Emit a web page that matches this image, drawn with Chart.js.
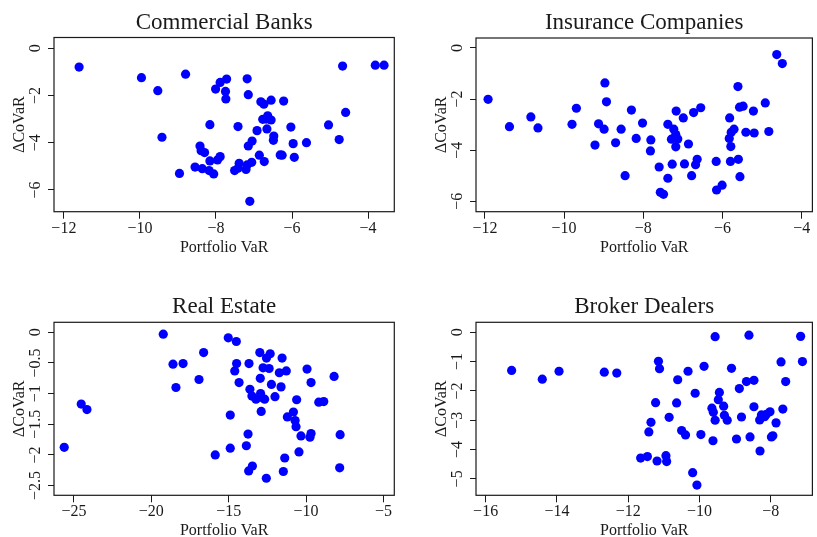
<!DOCTYPE html>
<html lang="en">
<head>
  <meta charset="UTF-8">
  <title>CoVaR vs Portfolio VaR</title>
  <script src="https://cdn.jsdelivr.net/npm/chart.js"></script>
  <style>
    body { margin: 0; background: white; }
    #wrap { position: relative; width: 817px; height: 537px; }
    canvas { position: absolute; }
  </style>
</head>
<body>
  <div id="wrap">
    <canvas id="cb" width="408" height="268" style="left:0;top:0"></canvas>
    <canvas id="ic" width="409" height="268" style="left:408px;top:0"></canvas>
    <canvas id="re" width="408" height="269" style="left:0;top:268px"></canvas>
    <canvas id="bd" width="409" height="269" style="left:408px;top:268px"></canvas>
  </div>

  <script>
    // panel titles and axis labels
    const titles = ['Commercial Banks', 'Insurance Companies', 'Real Estate', 'Broker Dealers'];
    const xTitle = 'Portfolio VaR';
    const yTitle = 'ΔCoVaR';

    // tick labels
    const cbXTicks = [-12, -10, -8, -6, -4];
    const cbYTicks = [0, -2, -4, -6];
    const icXTicks = [-12, -10, -8, -6, -4];
    const icYTicks = [0, -2, -4, -6];
    const reXTicks = [-25, -20, -15, -10, -5];
    const reYTicks = [0, -0.5, -1, -1.5, -2, -2.5];
    const bdXTicks = [-16, -14, -12, -10, -8];
    const bdYTicks = [0, -1, -2, -3, -4, -5];

    // Commercial Banks
    const cbX = [-11.60, -9.96, -8.80, -9.53, -7.89, -7.72, -8.01, -7.75, -7.74, -8.16, -9.42, -8.42, -8.39, -8.30, -7.89,
      -7.96, -8.16, -8.55, -8.36, -8.18, -8.06, -8.96, -7.18, -7.15, -6.82, -6.74, -6.55, -6.22, -4.67, -3.81, -3.58,
      -4.59, -5.04, -4.76, -6.03, -5.62, -5.97, -5.94, -6.31, -6.26, -6.48, -6.49, -6.64, -6.77, -6.55, -6.66, -6.68,
      -6.92, -7.42, -7.05, -7.15, -6.86, -6.73, -7.06, -7.18, -7.21, -7.39, -7.51, -7.42, -7.11];
    const cbY = [-0.80, -1.25, -1.10, -1.80, -1.45, -1.31, -1.73, -1.83, -2.15, -3.24, -3.77, -4.14, -4.34, -4.42, -4.59,
      -4.73, -4.77, -5.03, -5.10, -5.18, -5.32, -5.30, -1.30, -1.97, -2.27, -2.37, -2.20, -2.24, -0.76, -0.72, -0.72,
      -2.72, -3.25, -3.87, -3.34, -4.00, -4.04, -4.62, -4.52, -4.53, -3.72, -3.90, -2.86, -3.01, -3.04, -3.42, -3.00,
      -3.49, -3.32, -3.93, -4.14, -4.53, -4.80, -4.83, -4.94, -5.13, -4.87, -5.18, -5.08, -6.48];

    // Insurance Companies
    const icX = [-11.92, -11.38, -10.84, -10.66, -9.80, -9.69, -9.22, -9.13, -8.99, -8.97, -8.93, -8.70, -8.56, -8.46,
      -8.30, -8.18, -8.02, -7.81, -7.82, -7.60, -7.38, -7.57, -7.49, -7.38, -7.23, -7.18, -7.29, -7.13, -7.18, -7.27,
      -7.17, -6.99, -6.73, -6.55, -6.86, -6.96, -6.78, -6.68, -6.64, -6.16, -6.15, -6.01, -5.80, -5.60, -5.56, -5.79,
      -5.83, -5.78, -5.71, -5.82, -5.61, -5.57, -5.48, -5.22, -5.41, -5.20, -4.92, -4.83, -4.63, -4.49];
    const icY = [-2.01, -3.08, -2.70, -3.13, -2.99, -2.36, -3.80, -2.97, -3.18, -1.37, -2.11, -3.71, -3.18, -5.00,
      -2.43, -3.54, -2.94, -3.60, -4.03, -4.66, -5.10, -5.65, -5.73, -2.99, -3.18, -3.39, -3.57, -3.56, -3.87, -4.55,
      -2.47, -2.74, -2.53, -2.34, -3.76, -4.54, -5.00, -4.57, -4.36, -4.44, -5.56, -5.37, -4.44, -4.36, -5.04, -3.86,
      -3.54, -3.30, -3.18, -2.74, -1.51, -2.32, -2.28, -2.47, -3.30, -3.33, -2.15, -3.27, -0.26, -0.61];

    // Real Estate
    const reX = [-25.63, -24.53, -24.16, -19.23, -18.60, -17.95, -18.41, -16.62, -16.92, -15.87, -15.03, -14.51, -14.49,
      -14.61, -14.33, -13.69, -14.90, -14.90, -13.75, -13.86, -13.71, -13.47, -12.57, -13.63, -13.50, -13.24, -12.94,
      -12.90, -12.68, -12.96, -12.90, -12.99, -12.56, -12.32, -12.78, -12.39, -12.24, -12.01, -11.55, -11.73, -11.28,
      -11.62, -11.21, -10.82, -10.71, -10.65, -10.61, -10.33, -10.46, -11.38, -11.47, -9.94, -9.68, -9.18, -8.86,
      -9.68, -9.75, -8.19, -7.80, -7.83];
    const reY = [-1.875, -1.17, -1.26, -0.03, -0.52, -0.51, -0.90, -0.33, -0.77, -2.00, -0.09, -0.15, -0.51,
      -0.63, -0.82, -0.51, -1.35, -1.89, -1.66, -1.85, -2.26, -2.18, -2.38, -0.93, -1.04, -1.09, -1.00,
      -1.06, -1.09, -0.75, -1.29, -0.33, -0.42, -0.35, -0.58, -0.59, -0.85, -1.05, -0.42, -0.66, -0.63,
      -0.89, -1.38, -1.30, -1.44, -1.54, -1.10, -1.69, -1.95, -2.05, -2.27, -0.60, -0.82, -1.14, -1.13,
      -1.65, -1.71, -0.72, -1.67, -2.21];

    // Broker Dealers
    const bdX = [-15.27, -14.41, -13.94, -12.67, -12.32, -11.65, -11.46, -11.19, -10.94, -10.92, -11.42, -11.36, -11.23,
      -11.15, -11.12, -10.85, -10.64, -10.61, -10.50, -10.39, -10.32, -10.19, -10.07, -10.12, -9.96, -9.87, -9.62,
      -9.56, -9.65, -9.61, -9.56, -9.47, -9.44, -9.32, -9.30, -9.22, -9.10, -8.96, -8.88, -8.82, -8.68, -8.61, -8.58,
      -8.47, -8.47, -8.31, -8.30, -8.26, -8.17, -8.12, -8.02, -7.85, -7.98, -7.94, -7.71, -7.58, -7.66, -7.16, -7.11];
    const bdY = [-1.30, -1.60, -1.33, -1.36, -1.39, -4.29, -4.24, -4.39, -4.21, -4.41, -3.40, -3.07, -2.40,
      -0.99, -1.24, -2.90, -2.41, -1.62, -3.35, -3.50, -1.33, -4.79, -5.21, -2.08, -3.49, -1.16, -3.70,
      -0.15, -2.59, -2.73, -3.00, -2.30, -2.05, -2.52, -2.83, -3.00, -1.23, -3.64, -1.92, -2.89, -1.68, -0.10, -3.57,
      -1.64, -2.54, -2.99, -4.05, -2.82, -2.88, -2.80, -2.71, -3.09, -3.57, -3.53, -1.01, -1.68, -2.62, -0.14, -1.00];

    const FONT = "'Liberation Serif', 'Times New Roman', serif";
    const INK = '#1a1a1a';
    const fmt = v => (v < 0 ? '\u2212' : '') + Math.abs(v);

    // draws the R-style box, titles and tick labels
    const rStyle = {
      id: 'rStyle',
      afterDraw(chart, args, opts) {
        const { ctx, chartArea: a, scales } = chart;
        ctx.save();
        ctx.strokeStyle = INK;
        ctx.lineWidth = 1.2;
        ctx.strokeRect(a.left, a.top, a.right - a.left, a.bottom - a.top);
        ctx.fillStyle = INK;

        ctx.font = '23px ' + FONT;
        ctx.textAlign = 'center';
        ctx.textBaseline = 'alphabetic';
        ctx.fillText(opts.title, (a.left + a.right) / 2, a.top - 9);

        ctx.font = '16px ' + FONT;
        opts.xTicks.forEach(v => ctx.fillText(fmt(v), scales.x.getPixelForValue(v), a.bottom + 21));
        ctx.fillText(xTitle, (a.left + a.right) / 2, a.bottom + 40);

        opts.yTicks.forEach(v => {
          ctx.save();
          ctx.translate(a.left - 14.5, scales.y.getPixelForValue(v));
          ctx.rotate(-Math.PI / 2);
          ctx.fillText(fmt(v), 0, 0);
          ctx.restore();
        });
        ctx.translate(a.left - 30, (a.top + a.bottom) / 2);
        ctx.rotate(-Math.PI / 2);
        ctx.fillText(yTitle, 0, 0);
        ctx.restore();
      }
    };

    const axisTicks = (vals) => ({
      display: false,
      includeBounds: false,
      callback: (v) => v
    });

    const createChart = (id, title, xs, ys, xTicks, yTicks, xr, yr, pad) => new Chart(document.getElementById(id), {
      type: 'scatter',
      data: {
        datasets: [{
          data: xs.map((x, i) => ({ x: x, y: ys[i] })),
          backgroundColor: '#0000ff',
          borderWidth: 0,
          pointRadius: 4.6,
          pointHoverRadius: 4.6
        }]
      },
      options: {
        responsive: false,
        animation: false,
        layout: { padding: pad },
        plugins: {
          legend: { display: false },
          tooltip: { enabled: false },
          rStyle: { title: title, xTicks: xTicks, yTicks: yTicks }
        },
        scales: {
          x: {
            type: 'linear', min: xr[0], max: xr[1],
            afterBuildTicks: s => { s.ticks = xTicks.map(v => ({ value: v })); },
            afterFit: s => { s.height = 8; },
            ticks: axisTicks(xTicks),
            border: { display: false },
            grid: { drawOnChartArea: false, drawTicks: true, tickLength: 7, color: INK, lineWidth: 1 }
          },
          y: {
            type: 'linear', min: yr[0], max: yr[1],
            afterBuildTicks: s => { s.ticks = yTicks.map(v => ({ value: v })); },
            afterFit: s => { s.width = 8; },
            ticks: axisTicks(yTicks),
            border: { display: false },
            grid: { drawOnChartArea: false, drawTicks: true, tickLength: 6, color: INK, lineWidth: 1 }
          }
        }
      },
      plugins: [rStyle]
    });

    createChart('cb', titles[0], cbX, cbY, cbXTicks, cbYTicks, [-12.26, -3.31], [-6.92, 0.45],
      { left: 46, top: 37.5, right: 13.7, bottom: 48.3 });
    createChart('ic', titles[1], icX, icY, icXTicks, icYTicks, [-12.225, -3.73], [-6.41, 0.39],
      { left: 60, top: 38, right: 1.3, bottom: 48.3 });
    createChart('re', titles[2], reX, reY, reXTicks, reYTicks, [-26.29, -4.30], [-2.658, 0.163],
      { left: 46, top: 54.3, right: 13.7, bottom: 33.7 });
    createChart('bd', titles[3], bdX, bdY, bdXTicks, bdYTicks, [-16.27, -6.83], [-5.56, 0.34],
      { left: 60, top: 54.3, right: 1.3, bottom: 33.7 });
  </script>
</body>
</html>
